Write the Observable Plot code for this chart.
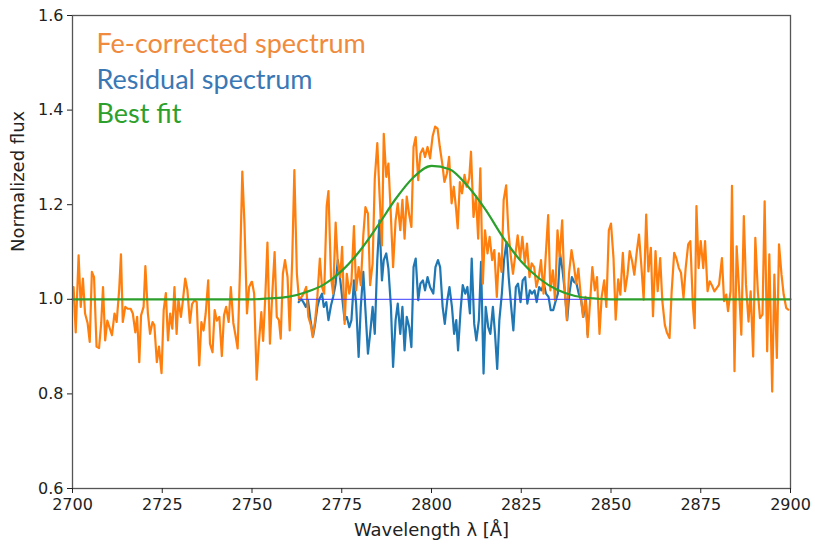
<!DOCTYPE html>
<html>
<head>
<meta charset="utf-8">
<script src="https://cdn.jsdelivr.net/npm/d3@7"></script>
<script src="https://cdn.jsdelivr.net/npm/@observablehq/plot@0.6"></script>
<style>
  html, body { margin: 0; padding: 0; background: #fff; }
  #chart svg { display: block; }
</style>
</head>
<body>
<div id="chart"></div>
<script>
// Fe-corrected spectrum (orange)
const feWavelength = [
  2700.3, 2700.9, 2701.7, 2702.3, 2702.9, 2703.5, 2704.2, 2704.8, 2705.4, 2706.0,
  2706.7, 2707.4, 2708.0, 2708.5, 2709.1, 2709.7, 2710.4, 2711.0, 2711.7, 2712.3,
  2713.0, 2713.5, 2714.0, 2714.7, 2715.4, 2716.2, 2716.8, 2717.5, 2718.0, 2718.6,
  2719.1, 2719.8, 2720.3, 2721.0, 2721.6, 2722.3, 2722.8, 2723.5, 2724.1, 2724.8,
  2725.4, 2726.0, 2726.6, 2727.2, 2727.8, 2728.4, 2729.0, 2729.5, 2730.2, 2730.7,
  2731.4, 2732.0, 2732.7, 2733.3, 2734.0, 2734.6, 2735.3, 2735.9, 2736.5, 2737.1,
  2737.8, 2738.3, 2739.0, 2739.6, 2740.2, 2740.9, 2741.6, 2742.2, 2742.8, 2743.5,
  2744.1, 2744.8, 2745.4, 2746.0, 2746.6, 2747.3, 2747.9, 2748.6, 2749.2, 2749.9,
  2750.0, 2750.6, 2751.3, 2751.9, 2752.6, 2753.1, 2753.7, 2754.3, 2755.0, 2755.6,
  2756.3, 2756.9, 2757.5, 2758.0, 2758.6, 2759.2, 2759.9, 2760.5, 2761.2, 2761.8,
  2762.5, 2763.1, 2763.8, 2764.4, 2765.1, 2765.7, 2766.4, 2766.9, 2767.6, 2768.2,
  2768.9, 2769.5, 2770.1, 2770.8, 2771.3, 2772.0, 2772.6, 2773.3, 2773.9, 2774.6,
  2775.1, 2775.8, 2776.4, 2777.1, 2777.7, 2778.4, 2779.0, 2779.7, 2780.3, 2781.0,
  2781.6, 2782.3, 2782.9, 2783.6, 2784.2, 2784.9, 2785.5, 2786.2, 2786.7, 2787.4,
  2788.0, 2788.7, 2789.3, 2790.0, 2790.6, 2791.3, 2791.9, 2792.5, 2793.1, 2793.8,
  2794.4, 2795.0, 2795.6, 2796.3, 2796.9, 2797.6, 2798.2, 2798.9, 2799.6,
  2800.3, 2801.0, 2801.7, 2802.3, 2803.0, 2803.6, 2804.3, 2804.9, 2805.6, 2806.2,
  2806.8, 2807.3, 2807.9, 2808.5, 2809.2, 2809.8, 2810.5, 2811.0, 2811.7, 2812.4,
  2813.0, 2813.6, 2814.3, 2814.9, 2815.6, 2816.2, 2816.9, 2817.5, 2818.2, 2818.8,
  2819.5, 2820.1, 2820.8, 2821.4, 2822.1, 2822.7, 2823.4, 2824.0, 2824.7, 2825.3,
  2826.0, 2826.6, 2827.3, 2827.9, 2828.6, 2829.2, 2829.9, 2830.5, 2831.2, 2831.8,
  2832.5, 2833.1, 2833.8, 2834.4, 2835.1, 2835.7, 2836.4, 2837.0, 2837.7, 2838.3,
  2839.0, 2839.6, 2840.3, 2840.9, 2841.6, 2842.2, 2842.9, 2843.5, 2844.2, 2844.8,
  2845.5, 2846.1, 2846.8, 2847.4, 2848.1, 2848.7, 2849.4, 2850.0,
  2850.7, 2851.3, 2852.0, 2852.6, 2853.3, 2853.9, 2854.6, 2855.2, 2855.9, 2856.5,
  2857.2, 2857.8, 2858.5, 2859.1, 2859.8, 2860.4, 2861.1, 2861.7, 2862.4, 2863.0,
  2863.7, 2864.3, 2865.0, 2865.6, 2866.3, 2866.9, 2867.6, 2868.2, 2868.9, 2869.5,
  2870.2, 2870.8, 2871.5, 2872.1, 2872.8, 2873.3, 2873.8, 2874.4, 2875.0, 2875.7,
  2876.2, 2876.9, 2877.5, 2878.2, 2878.8, 2879.5, 2880.1, 2880.9, 2881.5, 2882.1,
  2882.6, 2883.3, 2883.7, 2884.4, 2885.0, 2885.7, 2886.3, 2887.0, 2887.6, 2888.3,
  2888.9, 2889.6, 2890.2, 2890.9, 2891.5, 2892.2, 2892.8, 2893.5, 2894.1, 2894.9,
  2895.5, 2896.2, 2896.8, 2897.5, 2898.1, 2898.8, 2899.4
];
const feFlux = [
  1.026, 0.930, 1.093, 0.984, 1.044, 0.970, 0.950, 0.910, 1.058, 1.047,
  0.900, 0.897, 0.950, 1.026, 0.913, 0.955, 0.938, 0.924, 0.970, 0.952,
  1.020, 1.095, 0.952, 0.984, 0.980, 0.980, 0.970, 0.930, 0.963, 0.867,
  0.966, 0.984, 1.070, 0.970, 0.927, 0.952, 0.945, 0.867, 0.900, 0.844,
  0.977, 1.013, 0.913, 0.970, 0.938, 1.026, 0.927, 1.000, 0.963, 0.994,
  1.044, 1.020, 0.950, 0.990, 0.998, 0.994, 0.860, 0.952, 0.934, 0.970,
  1.040, 0.906, 0.888, 0.977, 0.955, 0.963, 0.880, 0.966, 0.984, 0.952,
  1.026, 0.950, 0.924, 0.896, 1.047, 1.270, 1.160, 0.970, 1.026, 1.037,
  1.037, 1.012, 0.830, 0.906, 0.973, 0.912, 1.005, 1.120, 0.906, 1.005,
  1.100, 0.963, 0.956, 0.917, 1.054, 1.083, 1.047, 0.934, 1.083, 1.273,
  1.054, 0.998, 1.005, 1.012, 1.026, 0.963, 0.945, 0.920, 0.956, 1.005,
  1.086, 1.026, 1.012, 1.197, 1.229, 1.047, 1.012, 1.162, 1.076, 1.047,
  1.111, 0.948, 1.054, 1.012, 1.037, 1.155, 1.019, 1.068, 1.030, 1.135,
  1.195, 1.181, 1.030, 1.076, 1.255, 1.330, 1.227, 1.114, 1.350, 1.259,
  1.287, 1.174, 1.068, 1.167, 1.203, 1.146, 1.210, 1.128, 1.217, 1.178,
  1.153, 1.322, 1.343, 1.252, 1.308, 1.319, 1.301, 1.322, 1.298,
  1.344, 1.365, 1.361, 1.323, 1.287, 1.248, 1.266, 1.301, 1.203, 1.238,
  1.195, 1.150, 1.248, 1.224, 1.263, 1.238, 1.255, 1.312, 1.174, 1.217,
  1.128, 1.277, 1.033, 1.146, 1.097, 1.132, 1.083, 1.104, 1.005, 1.097,
  1.058, 1.210, 1.241, 1.146, 1.090, 1.054, 1.097, 1.135, 1.086, 1.132,
  1.076, 1.118, 1.047, 1.076, 1.068, 1.026, 1.047, 1.083, 1.012, 1.090,
  1.178, 1.019, 1.061, 0.998, 1.146, 1.090, 1.167, 1.033, 0.956, 1.054,
  1.104, 1.076, 1.033, 1.065, 1.005, 0.963, 1.005, 0.920, 0.998, 1.068,
  1.019, 1.047, 0.927, 1.005, 1.040, 0.984, 1.146, 1.160,
  1.087, 0.957, 1.042, 1.010, 1.098, 1.017, 1.052, 1.102, 1.080, 1.052,
  1.102, 1.137, 1.066, 0.999, 1.179, 1.059, 1.109, 0.964, 1.102, 1.017,
  1.087, 0.996, 0.946, 0.929, 0.918, 1.017, 1.098, 1.087, 1.066, 1.056,
  1.003, 1.066, 1.116, 1.123, 0.989, 0.939, 1.197, 1.066, 1.123, 1.066,
  1.123, 1.017, 1.038, 1.028, 1.017, 1.024, 1.031, 1.087, 0.996, 1.010,
  0.975, 1.017, 1.240, 0.848, 1.112, 1.017, 0.925, 1.176, 1.031, 0.953,
  1.017, 0.879, 1.130, 1.017, 0.960, 0.968, 1.207, 0.890, 1.095, 0.805,
  1.052, 0.876, 1.116, 1.052, 1.010, 0.982, 0.978
];

// Residual spectrum (blue)
const resWavelength = [
  2763.0, 2763.7, 2764.3, 2765.0, 2765.6, 2766.3, 2767.0, 2767.6, 2768.2, 2768.8,
  2769.5, 2770.0, 2770.7, 2771.3, 2772.0, 2772.6, 2773.3, 2773.9, 2774.6, 2775.2,
  2775.8, 2776.4, 2777.1, 2777.7, 2778.4, 2779.0, 2779.7, 2780.3, 2781.0, 2781.6,
  2782.3, 2782.9, 2783.6, 2784.2, 2784.9, 2785.5, 2786.2, 2786.7, 2787.4, 2788.0,
  2788.7, 2789.3, 2790.0, 2790.6, 2791.3, 2791.9, 2792.5, 2793.1, 2793.8, 2794.4,
  2795.0, 2795.6, 2796.3, 2796.9, 2797.6, 2798.2, 2798.9, 2799.6,
  2800.5, 2801.1, 2801.8, 2802.4, 2803.1, 2803.7, 2804.4, 2805.0, 2805.7, 2806.3,
  2806.9, 2807.4, 2808.1, 2808.7, 2809.4, 2810.0, 2810.7, 2811.2, 2811.9, 2812.5,
  2813.2, 2813.8, 2814.5, 2815.1, 2815.8, 2816.4, 2817.1, 2817.7, 2818.3, 2818.9,
  2819.6, 2820.2, 2820.9, 2821.5, 2822.2, 2822.8, 2823.5, 2824.1, 2824.8, 2825.4,
  2826.1, 2826.7, 2827.4, 2828.0, 2828.7, 2829.3, 2830.0, 2830.6, 2831.3, 2831.9,
  2832.6, 2833.2, 2833.9, 2834.5, 2835.2, 2835.8, 2836.5, 2837.1, 2837.8, 2838.4,
  2839.1, 2839.7, 2840.4, 2841.0, 2841.7, 2842.3, 2843.0, 2843.5
];
const resFlux = [
  0.994, 1.001, 0.994, 0.984, 0.998, 0.956, 0.922, 0.949, 0.984, 1.001,
  1.012, 0.984, 0.994, 0.956, 0.987, 1.005, 1.033, 1.083, 1.040, 0.998,
  0.956, 0.963, 0.941, 0.956, 1.040, 0.991, 0.878, 0.984, 1.058, 0.977,
  0.885, 0.927, 0.984, 0.927, 1.083, 1.167, 1.040, 1.083, 1.097, 1.065,
  0.984, 0.857, 0.956, 0.991, 0.927, 0.984, 0.892, 0.963, 0.941, 0.899,
  1.068, 1.086, 0.998, 1.033, 1.040, 1.019, 1.047, 1.026,
  1.012, 1.068, 1.083, 1.068, 0.984, 0.948, 0.998, 1.026, 0.984, 0.927,
  0.956, 0.892, 0.977, 1.030, 1.012, 1.026, 0.970, 1.086, 0.948, 0.913,
  0.956, 1.079, 0.843, 0.984, 0.941, 0.927, 0.984, 0.927, 0.853, 0.956,
  1.012, 1.083, 1.121, 1.047, 0.984, 0.934, 1.026, 1.033, 0.994, 1.040,
  1.047, 0.991, 1.019, 1.012, 1.019, 0.994, 1.026, 1.019, 1.033, 1.012,
  1.005, 0.977, 0.977, 0.994, 1.012, 1.097, 1.061, 1.019, 0.956, 1.012,
  1.047, 1.037, 1.033, 1.012, 0.998, 0.963, 1.000, 0.925
];

// Best fit (green)
const fitWavelength = [
  2700, 2720, 2740, 2750, 2755, 2760, 2765, 2770, 2775, 2780, 2785, 2790, 2795,
  2800, 2805, 2810, 2815, 2820, 2825, 2830, 2835, 2840, 2845, 2850, 2870, 2900
];
const fitFlux = [
  1.000, 1.000, 1.000, 1.000, 1.002, 1.005, 1.015, 1.031, 1.060, 1.102, 1.155, 1.212, 1.258,
  1.282, 1.275, 1.240, 1.190, 1.130, 1.080, 1.044, 1.020, 1.007, 1.002, 1.000, 1.000, 1.000
];

// Thin unit line under the residual
const unitRange = [2763, 2844];

const xTicks = [2700, 2725, 2750, 2775, 2800, 2825, 2850, 2875, 2900];
const yTicks = [0.6, 0.8, 1.0, 1.2, 1.4, 1.6];

const legendLabels = ["Fe-corrected spectrum", "Residual spectrum", "Best fit"];
const legendColors = ["#f08a3c", "#3a78b5", "#2ca02c"];
const legendOffsets = [29, 65, 99];

const fe = feWavelength.map((w, i) => ({w, f: feFlux[i]}));
const res = resWavelength.map((w, i) => ({w, f: resFlux[i]}));
const fit = fitWavelength.map((w, i) => ({w, f: fitFlux[i]}));
const unit = unitRange.map(w => ({w, f: 1}));

// one text mark per legend line so each gets its own offset
const legendMarks = legendLabels.map((t, i) =>
  Plot.text([t], {
    frameAnchor: "top-left", textAnchor: "start", lineAnchor: "middle",
    dx: 24, dy: legendOffsets[i],
    fill: legendColors[i], fontFamily: "Lato", fontSize: 27
  })
);

const chart = Plot.plot({
  width: 815,
  height: 544,
  marginLeft: 72,
  marginRight: 25,
  marginTop: 15,
  marginBottom: 56,
  style: {fontFamily: "DejaVu Sans", fontSize: "16px", color: "#222", background: "#fff"},
  x: {domain: [2700, 2900]},
  y: {domain: [0.6, 1.6]},
  marks: [
    Plot.line(res, {x: "w", y: "f", stroke: "#1f77b4", strokeWidth: 2.2}),
    Plot.line(fe, {x: "w", y: "f", stroke: "#ff7f0e", strokeWidth: 2.2}),
    Plot.line(unit, {x: "w", y: "f", stroke: "#3b3bff", strokeWidth: 1}),
    Plot.line(fit, {x: "w", y: "f", stroke: "#2ca02c", strokeWidth: 2.2, curve: "monotone-x"}),
    Plot.frame({stroke: "#555", strokeWidth: 1.3}),
    Plot.axisX({ticks: xTicks, tickFormat: d => String(d), tickSize: 5, tickPadding: 5, label: null}),
    Plot.axisY({ticks: yTicks, tickFormat: d3.format(".1f"), tickSize: 5, tickPadding: 4, label: null}),
    Plot.text(["Wavelength λ [Å]"], {frameAnchor: "bottom", dy: 47, fontSize: 18, fill: "#222"}),
    Plot.text(["Normalized flux"], {frameAnchor: "left", dx: -54, rotate: -90, fontSize: 18, fill: "#222"}),
    ...legendMarks
  ]
});

document.getElementById("chart").appendChild(chart);
</script>
</body>
</html>
